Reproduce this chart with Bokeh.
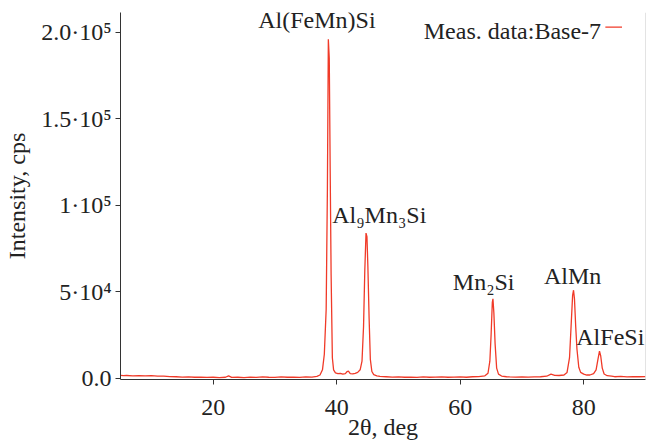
from bokeh.plotting import figure
from bokeh.models import FixedTicker, Span, Label, ColumnDataSource, Range1d
from bokeh.core.properties import value
from bokeh.embed import file_html
from bokeh.resources import INLINE

two_theta = [5.0, 5.5, 6.0, 7.0, 8.0, 9.0, 10.0, 11.0, 12.0, 13.0, 14.0, 15.0, 16.0, 17.0,
             18.0, 19.0, 20.0, 21.0, 22.0, 22.5, 23.0, 24.0, 25.0, 26.0, 27.0, 28.0, 29.0,
             30.0, 31.0, 32.0, 33.0, 34.0, 35.0, 36.0, 36.8, 37.3, 37.7, 38.0, 38.3, 38.5,
             38.65, 38.8, 38.95, 39.1, 39.3, 39.5, 39.8, 40.2, 40.6, 41.0, 41.4, 41.7, 41.9,
             42.2, 42.6, 43.0, 43.4, 43.8, 44.1, 44.35, 44.55, 44.75, 44.9, 45.05, 45.25,
             45.45, 45.7, 46.0, 46.5, 47.0, 48.0, 49.0, 50.0, 51.0, 52.0, 53.0, 54.0, 55.0,
             56.0, 57.0, 58.0, 59.0, 60.0, 61.0, 62.0, 63.0, 64.0, 64.5, 64.8, 65.0, 65.2,
             65.3, 65.45, 65.65, 65.9, 66.2, 66.7, 67.5, 68.0, 69.0, 70.0, 71.0, 72.0, 73.0,
             74.0, 74.7, 75.3, 76.0, 76.8, 77.3, 77.7, 77.95, 78.2, 78.35, 78.5, 78.7, 78.9,
             79.2, 79.5, 80.0, 80.5, 81.0, 81.6, 82.0, 82.3, 82.55, 82.75, 83.0, 83.3, 83.8,
             84.5, 85.0, 86.0, 87.0, 88.0, 89.0, 90.0]
intensity = [1800, 1600, 1700, 1500, 1650, 1500, 1600, 1400, 1300, 1100, 1000, 800, 900, 700,
             800, 600, 700, 500, 700, 1500, 600, 700, 500, 800, 600, 900, 700,
             600, 900, 700, 800, 600, 900, 800, 1200, 2000, 5000, 14000, 40000, 110000,
             196000, 185000, 120000, 60000, 12000, 5000, 3200, 2800, 3000, 2500, 2800, 4000, 4300,
             2800, 2700, 3000, 3500, 5000, 10000, 30000, 62000, 84000, 82000, 65000, 35000,
             11000, 4000, 2200, 1500, 1200, 1000, 800, 900, 700, 800, 600, 900, 700,
             800, 900, 700, 800, 900, 700, 1000, 1100, 1500, 3000, 10000, 25000, 44000,
             46000, 38000, 20000, 6000, 2500, 1400, 1000, 900, 800, 900, 800, 900, 1000,
             1300, 2500, 1800, 1700, 2000, 3500, 12000, 30000, 48000, 51000, 46000, 30000, 17000,
             6500, 3500, 2500, 2000, 2000, 2800, 5000, 11000, 15800, 13000, 6000, 2600, 1600,
             1300, 1000, 1200, 900, 1100, 1000, 1100]

# Phase labels
phase_names = ["Al(FeMn)Si", "Al\u2089Mn\u2083Si", "Mn\u2082Si", "AlMn", "AlFeSi"]
phase_x = [36.8, 46.9, 63.8, 78.2, 84.3]
phase_y = [207000, 94200, 55700, 59500, 23900]

y_ticks = [0, 50000, 100000, 150000, 200000]
y_tick_labels = ["0.0", "5\u00b710\u2074", "1\u00b710\u2075", "1.5\u00b710\u2075", "2.0\u00b710\u2075"]
x_ticks = [20, 40, 60, 80]

series_name = "Meas. data:Base-7"

FONT = "Liberation Serif"
FS = "24px"
LINE_COLOR = "#f03a28"
TEXT_COLOR = "#222222"

p = figure(frame_width=525, frame_height=367, output_backend="svg", toolbar_location=None,
           x_range=Range1d(5, 90), y_range=Range1d(-600, 211500),
           min_border_left=120, min_border_right=3, min_border_top=12, min_border_bottom=50)
p.outline_line_color = None
p.xgrid.visible = False
p.ygrid.visible = False
p.background_fill_color = "white"

p.line(two_theta, intensity, line_color=LINE_COLOR, line_width=1.3)

src = ColumnDataSource(dict(x=phase_x, y=phase_y, t=phase_names))
p.text("x", "y", text="t", source=src, text_font=value(FONT), text_font_size=FS,
       text_color=TEXT_COLOR, text_align="center", text_baseline="middle")

# legend (label with the line sample on its right)
p.add_layout(Label(x=82.8, y=200700, text=series_name, text_font=FONT, text_font_size=FS,
                   text_color=TEXT_COLOR, text_align="right", text_baseline="middle"))
p.segment(x0=[83.5], y0=[203000], x1=[86.2], y1=[203000], line_color=LINE_COLOR, line_width=1.3)

# right frame edge
p.add_layout(Span(location=90, dimension="height", line_color="#c8c8c8", line_width=1))

for ax in (p.xaxis[0], p.yaxis[0]):
    ax.axis_line_color = "#333333"
    ax.major_tick_line_color = "#333333"
    ax.major_tick_in = 0
    ax.major_tick_out = 5
    ax.minor_tick_line_color = None
    ax.major_label_text_font = FONT
    ax.major_label_text_font_size = FS
    ax.major_label_text_color = TEXT_COLOR
    ax.axis_label_text_font = FONT
    ax.axis_label_text_font_size = FS
    ax.axis_label_text_font_style = "normal"
    ax.axis_label_text_color = TEXT_COLOR

p.xaxis.ticker = FixedTicker(ticks=x_ticks)
p.yaxis.ticker = FixedTicker(ticks=y_ticks)
p.yaxis.major_label_overrides = {float(t): s for t, s in zip(y_ticks, y_tick_labels)}
p.xaxis.axis_label = "2\u03b8, deg"
p.yaxis.axis_label = "Intensity, cps"
p.xaxis.axis_label_standoff = -4
p.yaxis.axis_label_standoff = 8
p.yaxis.major_label_standoff = 4
p.xaxis.major_label_standoff = 15

open("out.html", "w").write(file_html(p, INLINE))
